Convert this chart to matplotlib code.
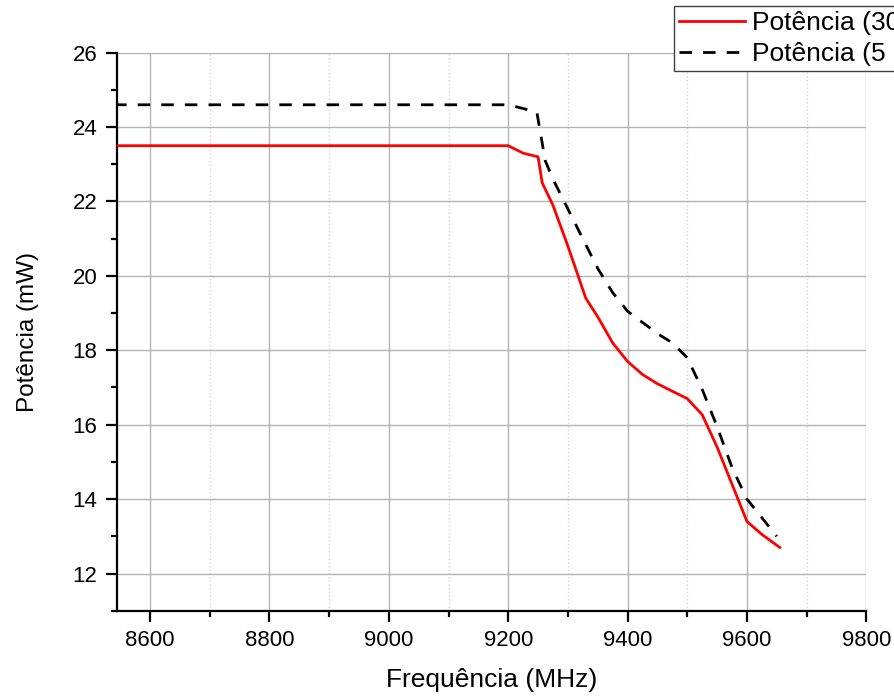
import matplotlib
matplotlib.use('Agg')
import matplotlib.pyplot as plt
from matplotlib.ticker import MultipleLocator

plt.rcParams['font.family'] = ['Liberation Sans', 'DejaVu Sans']

# frequency (MHz) and power (mW)
freq_red = [8500, 9200, 9225, 9250, 9257, 9275, 9300, 9330, 9350, 9375, 9400,
            9425, 9450, 9475, 9500, 9525, 9550, 9575, 9600, 9625, 9655]
pot_red = [23.5, 23.5, 23.3, 23.2, 22.5, 21.9, 20.8, 19.4, 18.9, 18.2, 17.7,
           17.35, 17.1, 16.9, 16.7, 16.27, 15.4, 14.4, 13.4, 13.05, 12.7]

freq_blk = [8500, 9200, 9225, 9248, 9262, 9275, 9300, 9325, 9350, 9375, 9400,
            9425, 9450, 9475, 9500, 9525, 9550, 9575, 9600, 9625, 9650]
pot_blk = [24.6, 24.6, 24.5, 24.4, 23.1, 22.6, 21.8, 21.0, 20.2, 19.55, 19.05,
           18.75, 18.45, 18.2, 17.8, 16.95, 15.95, 14.85, 14.0, 13.5, 13.0]

labels = ['Potência (30 mW)', 'Potência (5 mW)']

fig = plt.figure(figsize=(8.95, 7), dpi=100)
ax = fig.add_axes([116.7/895, 1-610.7/700, (866.3-116.7)/895, (610.7-52.7)/700])

ax.plot(freq_red, pot_red, color='#ff0000', lw=2.0, label=labels[0], zorder=3)
ax.plot(freq_blk, pot_blk, color='black', lw=2.0, ls=(0, (4.5, 4)), label=labels[1], zorder=3)

ax.set_xlim(8544, 9800)
ax.set_ylim(11, 26)
ax.xaxis.set_major_locator(MultipleLocator(200))
ax.xaxis.set_minor_locator(MultipleLocator(100))
ax.yaxis.set_major_locator(MultipleLocator(2))
ax.yaxis.set_minor_locator(MultipleLocator(1))
ax.set_yticks(range(12, 27, 2))

ax.grid(which='major', color='#b4b4b4', lw=1.0)
ax.grid(which='minor', axis='x', color='#d4d4d4', lw=1.0, ls=':')
ax.set_axisbelow(True)

for s in ['top', 'right']:
    ax.spines[s].set_visible(False)
for s in ['left', 'bottom']:
    ax.spines[s].set_linewidth(1.6)
ax.tick_params(which='major', direction='out', length=8, width=1.6, labelsize=16, pad=6)
ax.tick_params(which='minor', direction='out', length=4.5, width=1.6)

ax.set_xlabel('Frequência (MHz)', fontsize=19, labelpad=12)
ax.set_ylabel('Potência (mW)', fontsize=17.5, labelpad=24)

leg = fig.legend(loc='upper left', bbox_to_anchor=(674/895, 1-5.7/700), borderaxespad=0,
                 fontsize=19, handlelength=2.5, handletextpad=0.25, borderpad=0.2,
                 labelspacing=0.27, fancybox=False, framealpha=1)
leg.get_frame().set_edgecolor('#404040')
leg.get_frame().set_linewidth(1.0)

fig.savefig('out.png', dpi=100)
